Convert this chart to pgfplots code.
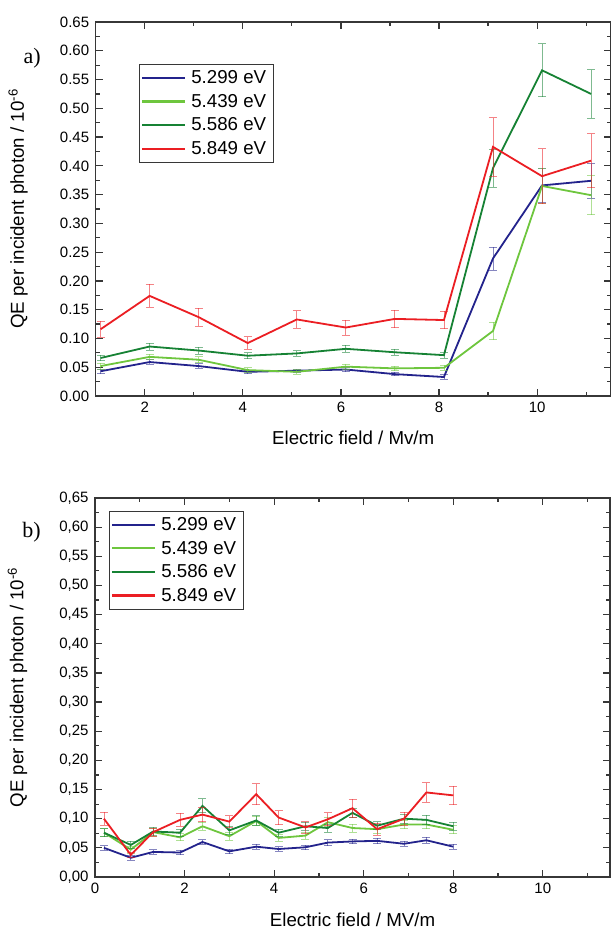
\documentclass[border=0pt]{standalone}
\usepackage{pgfplots}
\usepackage{pgfplotstable}
\pgfplotsset{compat=1.18}
\usepackage{fontspec}
\setmainfont{Liberation Sans}
\newfontfamily\seriffont{Liberation Serif}
\definecolor{cblue}{RGB}{35,35,140}
\definecolor{clight}{RGB}{110,198,62}
\definecolor{cdark}{RGB}{22,130,52}
\definecolor{cred}{RGB}{235,30,35}
\definecolor{axgray}{RGB}{55,55,55}

\pgfplotstableread{
x    b     be    l     le    d     de    r     re
1.1  0.043 0.004 0.052 0.005 0.066 0.005 0.116 0.014
2.1  0.059 0.004 0.068 0.005 0.086 0.006 0.174 0.020
3.1  0.052 0.004 0.063 0.005 0.079 0.006 0.137 0.016
4.1  0.042 0.003 0.045 0.004 0.070 0.005 0.092 0.011
5.1  0.044 0.003 0.042 0.004 0.074 0.005 0.133 0.015
6.1  0.046 0.004 0.051 0.004 0.082 0.006 0.119 0.013
7.1  0.038 0.003 0.048 0.004 0.076 0.005 0.134 0.015
8.1  0.033 0.004 0.049 0.004 0.071 0.005 0.132 0.015
9.1  0.239 0.020 0.113 0.015 0.396 0.033 0.433 0.051
10.1 0.366 0.030 0.365 0.031 0.566 0.046 0.382 0.048
11.1 0.374 0.030 0.349 0.034 0.525 0.042 0.409 0.047
}\toptable

\pgfplotstableread{
x    b     be    l     le    d     de    r     re
0.2  0.050 0.004 0.076 0.007 0.076 0.007 0.100 0.011
0.8  0.033 0.004 0.047 0.006 0.055 0.006 0.038 0.005
1.3  0.043 0.004 0.077 0.007 0.078 0.007 0.077 0.007
1.9  0.042 0.004 0.068 0.006 0.076 0.006 0.098 0.011
2.4  0.060 0.004 0.087 0.007 0.122 0.012 0.107 0.012
3.0  0.044 0.004 0.070 0.007 0.080 0.007 0.095 0.010
3.6  0.052 0.004 0.096 0.008 0.097 0.008 0.142 0.018
4.1  0.048 0.004 0.067 0.006 0.076 0.006 0.102 0.012
4.7  0.051 0.004 0.071 0.006 0.087 0.007 0.085 0.010
5.2  0.059 0.005 0.094 0.008 0.084 0.007 0.099 0.011
5.75 0.061 0.004 0.084 0.007 0.110 0.008 0.118 0.015
6.3  0.062 0.005 0.082 0.007 0.088 0.007 0.082 0.010
6.9  0.057 0.004 0.090 0.007 0.100 0.008 0.100 0.011
7.4  0.063 0.005 0.090 0.007 0.098 0.008 0.145 0.017
8.0  0.052 0.004 0.081 0.007 0.087 0.007 0.140 0.016
}\bottable

\pgfplotsset{
  qe/.style={
    scale only axis,
    width=515pt,
    axis line style={axgray, line width=1.5pt},
    every tick/.style={axgray, line width=1.2pt},
    major tick length=7pt, minor tick length=4pt,
    ymin=0, ymax=0.65,
    ytick={0,0.05,0.1,0.15,0.2,0.25,0.3,0.35,0.4,0.45,0.5,0.55,0.6,0.65},
    minor y tick num=1,
    scaled y ticks=false,
    tick label style={font=\fontsize{15}{18}\selectfont},
    /pgf/number format/assume math mode=true,
    yticklabel style={/pgf/number format/fixed, /pgf/number format/fixed zerofill, /pgf/number format/precision=2, xshift=-3pt},
    xticklabel style={yshift=-2.5pt},
    label style={font=\fontsize{18.7}{22}\selectfont},
    ylabel={QE per incident photon / 10\textsuperscript{-6}},
    ylabel style={at={(axis description cs:-0.1505,0.5)}, anchor=center},
    xlabel style={at={(axis description cs:0.5,-0.112)}, anchor=center},
    legend cell align=left,
    legend image code/.code={\draw[#1, line width=2.2pt, draw opacity=1] (0pt,0pt) -- (43pt,0pt);},
    legend style={draw=axgray, line width=1pt, fill=white,
      font=\fontsize{18.7}{22}\selectfont, inner xsep=2pt, inner ysep=2pt,
      nodes={inner xsep=5pt, inner ysep=4.5pt}, row sep=0pt},
    every axis plot/.append style={line width=1.8pt, mark=none},
    eb/.style={
      error bars/y dir=both, error bars/y explicit,
      error bars/error bar style={line width=0.8pt, draw opacity=0.55},
      error bars/error mark options={rotate=90, mark size=4pt, line width=0.8pt, draw opacity=0.55}},
  }
}

\begin{document}
\begin{tikzpicture}
\useasboundingbox (0pt,0pt) rectangle (613pt,929pt);
\begin{axis}[qe,
  at={(95.7pt,533pt)}, anchor=south west,
  height=374pt,
  xmin=1, xmax=11.5,
  xtick={2,4,6,8,10}, minor xtick={3,5,7,9,11},
  xlabel={Electric field / Mv/m},
  legend style={at={(0.0833,0.8885)}, anchor=north west},
  extra description/.code={\node[font=\seriffont\fontsize{22}{24}\selectfont] at (-0.1236,0.9037) {a)};},
]
\addplot[cblue, eb] table[x=x, y=b, y error=be] {\toptable};
\addlegendentry{5.299 eV}
\addplot[clight, eb] table[x=x, y=l, y error=le] {\toptable};
\addlegendentry{5.439 eV}
\addplot[cdark, eb] table[x=x, y=d, y error=de] {\toptable};
\addlegendentry{5.586 eV}
\addplot[cred, eb] table[x=x, y=r, y error=re] {\toptable};
\addlegendentry{5.849 eV}
\end{axis}

\begin{axis}[qe,
  at={(95pt,52pt)}, anchor=south west,
  height=379pt,
  xmin=0, xmax=11.5,
  xtick={0,2,4,6,8,10}, minor xtick={1,3,5,7,9,11},
  yticklabel style={/pgf/number format/use comma},
  xlabel={Electric field / MV/m},
  legend style={at={(0.0264,0.967)}, anchor=north west},
  extra description/.code={\node[font=\seriffont\fontsize{22}{24}\selectfont] at (-0.1233,0.911) {b)};},
]
\addplot[cblue, eb] table[x=x, y=b, y error=be] {\bottable};
\addlegendentry{5.299 eV}
\addplot[clight, eb] table[x=x, y=l, y error=le] {\bottable};
\addlegendentry{5.439 eV}
\addplot[cdark, eb] table[x=x, y=d, y error=de] {\bottable};
\addlegendentry{5.586 eV}
\addplot[cred, eb] table[x=x, y=r, y error=re] {\bottable};
\addlegendentry{5.849 eV}
\end{axis}
\end{tikzpicture}
\end{document}
